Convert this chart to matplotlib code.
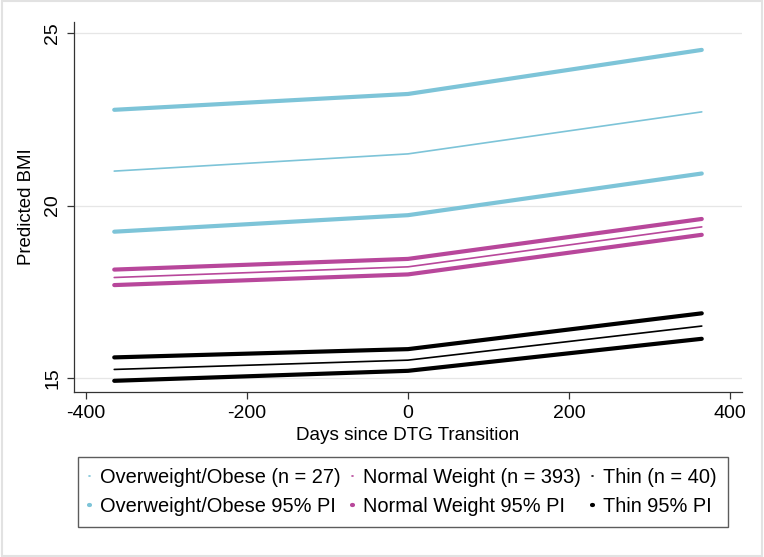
import matplotlib
matplotlib.use("Agg")
import matplotlib.pyplot as plt
from matplotlib.patches import Rectangle

plt.rcParams['font.family'] = ['Liberation Sans', 'DejaVu Sans']

# ---- data ----
days = [-365, 0, 365]

ow_mean  = [21.00, 21.50, 22.72]
ow_upper = [22.78, 23.24, 24.52]
ow_lower = [19.24, 19.72, 20.93]

nw_mean  = [17.91, 18.22, 19.38]
nw_upper = [18.14, 18.45, 19.61]
nw_lower = [17.69, 18.00, 19.15]

th_mean  = [15.24, 15.51, 16.50]
th_upper = [15.59, 15.83, 16.87]
th_lower = [14.91, 15.20, 16.13]

x_ticks = [-400, -200, 0, 200, 400]
y_ticks = [15, 20, 25]

blue = '#7dc4d8'
magenta = '#b8479b'
black = '#000000'

fig = plt.figure(figsize=(7.64, 5.57), dpi=100)
fig.patch.set_facecolor('white')
ax = fig.add_axes([74/764, 1-392/557, (742-74)/764, (392-22)/557])

thin, thick = 1.2, 3.0
groups = [
    (ow_mean, ow_upper, ow_lower, blue, 'Overweight/Obese (n = 27)', 'Overweight/Obese 95% PI'),
    (nw_mean, nw_upper, nw_lower, magenta, 'Normal Weight (n = 393)', 'Normal Weight 95% PI'),
    (th_mean, th_upper, th_lower, black, 'Thin (n = 40)', 'Thin 95% PI'),
]

handles = []
for mean, up, lo, col, lab_m, lab_pi in groups:
    hm, = ax.plot(days, mean, color=col, lw=thin, label=lab_m, solid_capstyle='round')
    hp, = ax.plot(days, up, color=col, lw=thick, label=lab_pi, solid_capstyle='round')
    ax.plot(days, lo, color=col, lw=thick, solid_capstyle='round')
    handles += [hm, hp]

ax.set_xlim(-415, 415)
ax.set_ylim(14.585, 25.33)
ax.set_xticks(x_ticks)
ax.set_xticklabels([str(v) for v in x_ticks])
ax.set_yticks(y_ticks)
ax.set_yticklabels([str(v) for v in y_ticks], rotation=90, va='center')
ax.grid(axis='y', color='#e6e6e6', lw=0.9)
ax.set_axisbelow(True)

for s in ['top', 'right']:
    ax.spines[s].set_visible(False)
for s in ['left', 'bottom']:
    ax.spines[s].set_color('#333333')
    ax.spines[s].set_linewidth(0.9)
ax.tick_params(length=5, width=0.9, color='#333333', labelsize=14, pad=4)

ax.set_xlabel('Days since DTG Transition', fontsize=13.6, labelpad=4)
ax.set_ylabel('Predicted BMI', fontsize=13.4, labelpad=7)

# legend: tiny dot handles, row 1 = predictions, row 2 = PIs
leg = fig.legend(handles=handles, ncol=3, loc='upper center',
                 bbox_to_anchor=(403/764, 1-457/557), fontsize=14.4,
                 handlelength=0.06, handletextpad=0.5, columnspacing=0.55,
                 labelspacing=0.5, frameon=True, fancybox=False,
                 borderpad=0.55, borderaxespad=0)
leg.get_frame().set_edgecolor('#333333')
leg.get_frame().set_linewidth(1.0)

# light outer border like the source image
fig.patches.append(Rectangle((0.002, 0.002), 0.996, 0.996, transform=fig.transFigure,
                             fill=False, edgecolor='#e2e2e2', lw=1.5))

fig.savefig('out.png', dpi=100, facecolor='white')
